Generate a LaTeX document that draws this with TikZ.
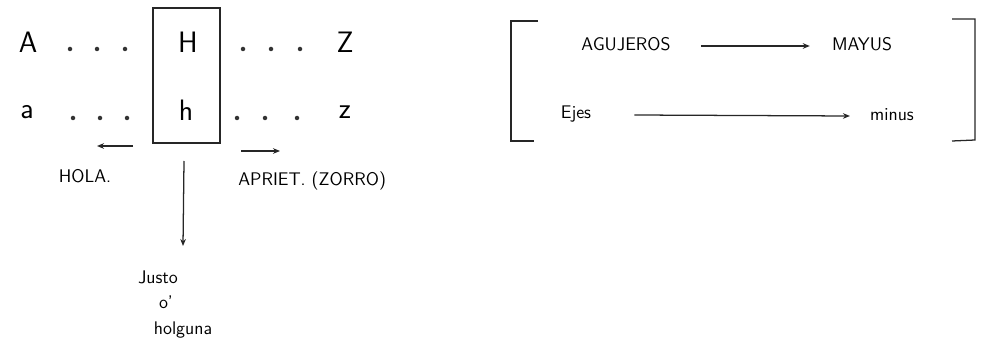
\documentclass[tikz,border=0pt]{standalone}
\usepackage{tikz}
\usetikzlibrary{arrows.meta,positioning,fit}

\tikzset{
  letra/.style={font=\fontsize{21}{24}\selectfont\sffamily, inner sep=0pt},
  nota/.style={font=\fontsize{13}{15}\selectfont\sffamily, inner sep=0pt},
  trazo/.style={line width=0.9pt, draw=black!85},
  flecha/.style={trazo, -{Stealth[length=5pt,width=4pt]}},
}

\begin{document}
\begin{tikzpicture}[x=0.025cm, y=-0.025cm]
    \useasboundingbox (0,0) rectangle (985,354);

    % Alfabeto en mayusculas
    \node[letra] (A) at (28,42) {A};
    \node[letra] (H) at (188,42) {H};
    \node[letra] (Z) at (345,42) {Z};
    \foreach \x in {70,97,125,243,271,300}
        \fill[black!80] (\x,49) circle (1.6pt);

    % Alfabeto en minusculas
    \node[letra] (a) at (27,112) {a};
    \node[letra] (h) at (186,110) {h};
    \node[letra] (z) at (345,112) {z};
    \foreach \x in {73,100,127,237,265,297}
        \fill[black!80] (\x,118) circle (1.6pt);

    % Caja de la letra
    \coordinate (cajaNO) at (153,8);
    \coordinate (cajaSE) at (220,143);
    \node[trazo, draw, fit=(cajaNO)(cajaSE), inner sep=0pt] (caja) {};

    % Hacia los lados
    \coordinate (izqA) at (133,146);
    \coordinate (izqB) at (97,146);
    \draw[flecha] (izqA) -- (izqB);
    \node[nota] (hola) at (85,176) {HOLA.};
    \coordinate (derA) at (241,151);
    \coordinate (derB) at (280,151);
    \draw[flecha] (derA) -- (derB);
    \node[nota, anchor=west] (apriet) at (238,181) {APRIET. (ZORRO)};

    % Hacia abajo
    \node[nota] (justo) at (158,277) {Justo};
    \node[nota] (o) at (166,302) {o'};
    \node[nota] (holguna) at (183,330) {holguna};
    \coordinate (bajaA) at (184,161);
    \coordinate (bajaB) at (183,246);
    \draw[flecha] (bajaA) -- (bajaB);

    % Corchete de la derecha
    \draw[trazo] (538,21) -- (511,21) -- (511,141) -- (534,141);
    \draw[trazo] (952,19) -- (975,19) -- (975,140) -- (952,141);
    \node[nota] (agujeros) at (626,44) {AGUJEROS};
    \node[nota] (mayus) at (862,44) {MAYUS};
    \path (agujeros.east) ++(30,2) coordinate (agA)
        (mayus.west) ++(-22,2) coordinate (agB);
    \draw[flecha] (agA) -- (agB);
    \node[nota] (ejes) at (576,114) {Ejes};
    \node[nota] (minus) at (892,115) {minus};
    \path (ejes.east) ++(43,1) coordinate (ejA)
        (minus.west) ++(-20,1) coordinate (ejB);
    \draw[flecha] (ejA) -- (ejB);
\end{tikzpicture}
\end{document}
